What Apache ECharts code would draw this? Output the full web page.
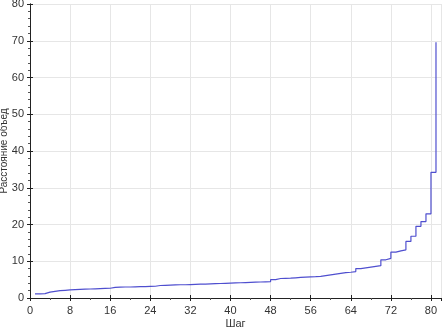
<!DOCTYPE html>
<html><head><meta charset="utf-8">
<script src="https://cdn.jsdelivr.net/npm/echarts@6/dist/echarts.min.js"></script>
<style>html,body{margin:0;padding:0;background:#fff}#c{width:443px;height:329px}</style>
</head><body><div id="c"></div>
<script>
const steps = [];
for (let i = 1; i <= 81; i++) steps.push(i);
const distances = [
  1.1, 1.2, 1.6, 1.8, 2.0, 2.1, 2.2, 2.3, 2.35, 2.4,
  2.45, 2.5, 2.55, 2.6, 2.65, 2.9, 2.95, 3.0, 3.0, 3.05,
  3.1, 3.1, 3.15, 3.2, 3.4, 3.45, 3.5, 3.55, 3.6, 3.6,
  3.65, 3.7, 3.75, 3.8, 3.85, 3.9, 3.95, 4.0, 4.05, 4.1,
  4.15, 4.2, 4.25, 4.3, 4.35, 4.4, 4.45, 5.0, 5.3, 5.35,
  5.4, 5.5, 5.6, 5.7, 5.75, 5.8, 5.9, 6.1, 6.3, 6.5,
  6.7, 6.9, 7.0, 7.2, 8.0, 8.2, 8.4, 8.6, 8.8, 10.4,
  10.8, 12.5, 12.8, 13.1, 15.4, 16.8, 19.5, 20.8, 22.9, 34.2,
  69.6
];
const xTicks = [0, 8, 16, 24, 32, 40, 48, 56, 64, 72, 80];
const yTicks = [0, 10, 20, 30, 40, 50, 60, 70, 80];
const xTitle = 'Шаг';
const yTitle = 'Расстояние объед';

const font = '"Liberation Sans", Arial, sans-serif';
const lab = {color: '#333', fontSize: 11, fontFamily: font};
const chart = echarts.init(document.getElementById('c'), null, {renderer: 'canvas'});
chart.setOption({
  animation: false,
  grid: {left: 30, right: 2, top: 4, bottom: 31, containLabel: false, outerBoundsMode: 'none'},
  xAxis: [{
    type: 'value', min: 0, max: 82, interval: 8,
    axisLine: {show: true, onZero: false, lineStyle: {color: '#222'}},
    axisTick: {show: true, inside: true, length: 3, lineStyle: {color: '#222'}},
    axisLabel: Object.assign({margin: 7, showMaxLabel: false,
      formatter: v => xTicks.includes(v) ? String(v) : ''}, lab),
    splitLine: {show: true, lineStyle: {color: '#e6e6e6'}},
    name: xTitle, nameLocation: 'middle', nameGap: 20, nameMoveOverlap: false,
    nameTextStyle: {color: '#333', fontSize: 11, fontFamily: font}
  }, {
    type: 'value', position: 'top', min: 0, max: 82, interval: 8,
    axisLine: {show: true, lineStyle: {color: '#222'}},
    axisTick: {show: true, inside: true, length: 3, lineStyle: {color: '#222'}},
    minorTick: {show: true, splitNumber: 2, length: 2, lineStyle: {color: '#555'}},
    axisLabel: {show: false}, splitLine: {show: false}
  }],
  yAxis: [{
    type: 'value', min: 0, max: 80, interval: 10,
    axisLine: {show: true, onZero: false, lineStyle: {color: '#222'}},
    axisTick: {show: true, inside: true, length: 3, lineStyle: {color: '#222'}},
    axisLabel: Object.assign({margin: 6,
      formatter: v => yTicks.includes(v) ? String(v) : ''}, lab),
    splitLine: {show: true, lineStyle: {color: '#e6e6e6'}},
    name: yTitle, nameLocation: 'middle', nameGap: 21, nameMoveOverlap: false,
    nameTextStyle: {color: '#333', fontSize: 10, fontFamily: font}
  }, {
    type: 'value', position: 'right', min: 0, max: 80, interval: 10,
    axisLine: {show: true, lineStyle: {color: '#222'}},
    axisTick: {show: true, inside: true, length: 3, lineStyle: {color: '#222'}},
    minorTick: {show: true, splitNumber: 5, length: 2, lineStyle: {color: '#555'}},
    axisLabel: {show: false}, splitLine: {show: false}
  }],
  series: [{
    type: 'line', step: 'end', showSymbol: false, symbol: 'none',
    data: steps.map((s, i) => [s, distances[i]]),
    lineStyle: {color: '#4f4fcf', width: 1.2}
  }]
});
</script></body></html>
